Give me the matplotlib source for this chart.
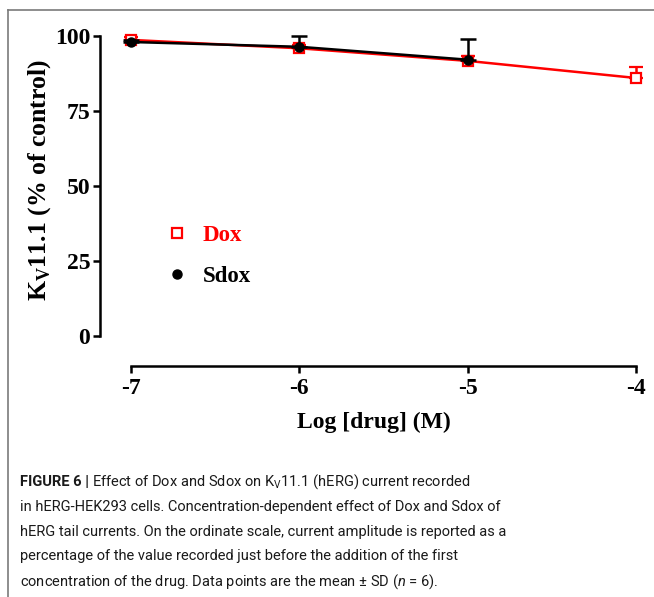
import matplotlib
matplotlib.use("Agg")
import matplotlib.pyplot as plt
from matplotlib.lines import Line2D
from matplotlib import font_manager

# ---- data ----
log_conc = [-7, -6, -5, -4]
dox_mean = [98.7, 95.9, 91.7, 86.0]
dox_sd = [0.8, 1.2, 1.5, 3.6]
sdox_conc = [-7, -6, -5]
sdox_mean = [98.0, 96.4, 92.1]
sdox_sd = [0.5, 3.7, 7.0]
yticks = [0, 25, 50, 75, 100]
xticks = [-7, -6, -5, -4]
series_labels = ["Dox", "Sdox"]

names = {f.name for f in font_manager.fontManager.ttflist}
cap_font = "Liberation Sans Narrow" if "Liberation Sans Narrow" in names else "Roboto"
serif = "Liberation Serif"

plt.rcParams["mathtext.fontset"] = "custom"
plt.rcParams["mathtext.rm"] = cap_font
plt.rcParams["mathtext.it"] = cap_font + ":italic"
plt.rcParams["mathtext.bf"] = serif + ":bold"

W, H = 654, 597
fig = plt.figure(figsize=(W / 100, H / 100), dpi=100)
fig.patch.set_facecolor("white")

ax = fig.add_axes([100 / W, (H - 366) / H, 548 / W, 346 / H])
ax.set_xlim(-7.184, -3.929)
ax.set_ylim(-10, 105.33)

# Dox (red, open squares)
ax.errorbar(log_conc, dox_mean, yerr=[[0] * len(dox_sd), dox_sd], color="red",
            lw=1.8, marker="s", ms=7, mfc="white", mec="red", mew=1.6,
            capsize=5, capthick=1.8, elinewidth=1.8, zorder=2)
# Sdox (black, filled circles)
ax.errorbar(sdox_conc, sdox_mean, yerr=[[0] * len(sdox_sd), sdox_sd], color="black",
            lw=1.8, marker="o", ms=6.5, mfc="black", mec="black",
            capsize=6, capthick=1.8, elinewidth=1.8, zorder=3)

for s in ["top", "right"]:
    ax.spines[s].set_visible(False)
ax.spines["left"].set_bounds(0, 100)
ax.spines["bottom"].set_bounds(-7, -4)
ax.spines["left"].set_linewidth(1.8)
ax.spines["bottom"].set_linewidth(1.8)
ax.set_yticks(yticks)
ax.set_xticks(xticks)
ax.set_yticklabels([str(v) for v in yticks])
ax.set_xticklabels([str(v) for v in xticks])
ax.tick_params(axis="both", direction="out", length=5, width=1.8, pad=2)
ax.tick_params(axis="x", pad=4)
for lab in ax.get_xticklabels() + ax.get_yticklabels():
    lab.set_fontfamily(serif)
    lab.set_fontweight("bold")
    lab.set_fontsize(17)

ax.set_xlabel("Log [drug] (M)", fontfamily=serif, fontweight="bold", fontsize=17, labelpad=9)
ax.set_ylabel(r"K$_\mathbf{V}$11.1 (% of control)", fontfamily=serif,
              fontweight="bold", fontsize=18.5)
ax.yaxis.set_label_coords(-0.086, 0.537)

handles = [Line2D([], [], ls="none", marker="s", ms=7, mfc="white", mec="red", mew=1.6),
           Line2D([], [], ls="none", marker="o", ms=6.5, color="black")]
leg = ax.legend(handles, series_labels, loc="upper left",
                bbox_to_anchor=(143 / W, 1 - 204 / H), bbox_transform=fig.transFigure,
                frameon=False, handlelength=1.2, handletextpad=0.5, labelspacing=0.9,
                prop={"family": serif, "weight": "bold", "size": 16.5},
                labelcolor=["red", "black"])

# frame lines
fig.add_artist(Line2D([8 / W, 1], [1 - 10 / H, 1 - 10 / H], color="#7a7a7a", lw=1.2,
                      transform=fig.transFigure))
fig.add_artist(Line2D([8 / W, 8 / W], [0, 1 - 10 / H], color="#7a7a7a", lw=1.2,
                      transform=fig.transFigure))

# caption
cap_size = 10.5
x0 = 20 / W
base0 = 486
step = 24.8
t0 = fig.text(x0, 1 - base0 / H, "FIGURE 6 |", fontfamily=cap_font, fontweight="bold",
              fontsize=cap_size, va="baseline", color="#1a1a1a")
fig.canvas.draw()
bb = t0.get_window_extent(fig.canvas.get_renderer())
x1 = (bb.x1 + 3) / W
fig.text(x1, 1 - base0 / H, r"Effect of Dox and Sdox on K$_\mathrm{V}$11.1 (hERG) current recorded",
         fontfamily=cap_font, fontsize=cap_size, va="baseline", color="#1a1a1a")
rest = [
    "in hERG-HEK293 cells. Concentration-dependent effect of Dox and Sdox of",
    "hERG tail currents. On the ordinate scale, current amplitude is reported as a",
    "percentage of the value recorded just before the addition of the first",
    r"concentration of the drug. Data points are the mean ± SD ($n$ = 6).",
]
for i, line in enumerate(rest, start=1):
    fig.text(x0, 1 - (base0 + step * i) / H, line, fontfamily=cap_font,
             fontsize=cap_size, va="baseline", color="#1a1a1a")

fig.savefig("out.png", dpi=100, facecolor="white")
